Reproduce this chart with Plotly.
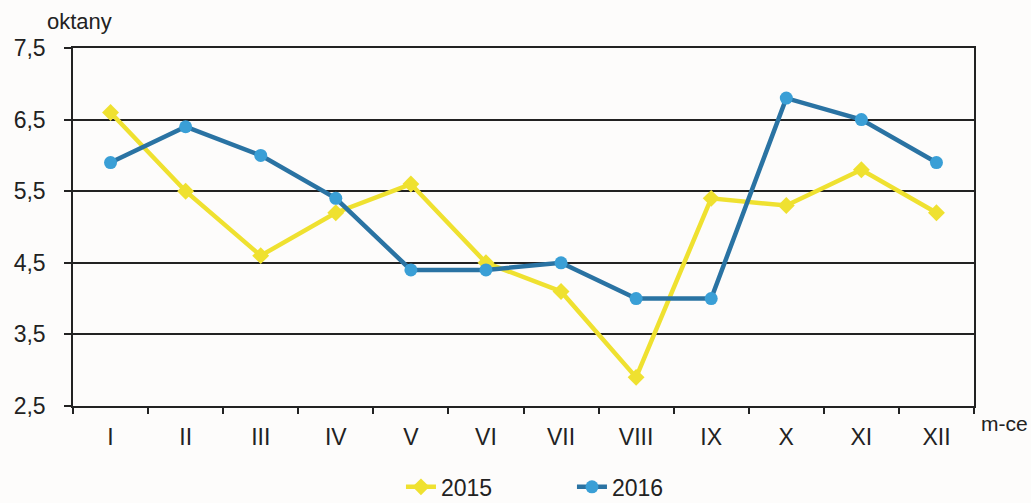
import plotly.graph_objects as go

months = ["I", "II", "III", "IV", "V", "VI", "VII", "VIII", "IX", "X", "XI", "XII"]
y2015 = [6.6, 5.5, 4.6, 5.2, 5.6, 4.5, 4.1, 2.9, 5.4, 5.3, 5.8, 5.2]
y2016 = [5.9, 6.4, 6.0, 5.4, 4.4, 4.4, 4.5, 4.0, 4.0, 6.8, 6.5, 5.9]
ytickvals = [2.5, 3.5, 4.5, 5.5, 6.5, 7.5]
yticktext = ["2,5", "3,5", "4,5", "5,5", "6,5", "7,5"]

FONT = "Liberation Sans, Arial, sans-serif"
BG = "#fdfcfb"
INK = "#222222"

fig = go.Figure()
fig.add_trace(go.Scatter(
    x=months, y=y2015, name="2015", mode="lines+markers",
    line=dict(color="#efe130", width=4.5),
    marker=dict(symbol="diamond", size=13, color="#efe130"),
))
fig.add_trace(go.Scatter(
    x=months, y=y2016, name="2016", mode="lines+markers",
    line=dict(color="#2a73a3", width=4.5),
    marker=dict(symbol="circle", size=13, color="#3a9fd6"),
))

fig.update_layout(
    width=1031, height=503,
    margin=dict(l=73, r=57, t=48, b=97, autoexpand=False),
    paper_bgcolor=BG, plot_bgcolor=BG,
    font=dict(family=FONT, size=22, color=INK),
    showlegend=True,
    legend=dict(orientation="h", xref="paper", x=0.364, xanchor="left",
                yref="container", y=0.032, yanchor="middle",
                font=dict(size=23), entrywidth=126, entrywidthmode="pixels",
                bgcolor="rgba(0,0,0,0)"),
    xaxis=dict(
        type="category", tickson="boundaries", ticks="outside", ticklen=6,
        tickcolor=INK, tickwidth=1.5, automargin=False, ticklabelstandoff=10,
        showline=True, linecolor=INK, linewidth=1.5, mirror=True,
        showgrid=False, range=[-0.5, 11.5],
        tickfont=dict(size=23),
    ),
    yaxis=dict(
        range=[2.5, 7.5], tickvals=ytickvals, ticktext=yticktext,
        ticks="outside", ticklen=7, tickcolor=INK, tickwidth=1.5,
        automargin=False, ticklabelstandoff=14,
        showline=True, linecolor=INK, linewidth=1.5, mirror=True,
        showgrid=True, gridcolor=INK, gridwidth=1.5, zeroline=False,
        tickfont=dict(size=23),
    ),
    annotations=[
        dict(text="oktany", xref="paper", yref="paper", x=-0.031, y=1.075,
             xanchor="left", yanchor="middle", showarrow=False, font=dict(size=22)),
        dict(text="m-ce", xref="paper", yref="paper", x=1.006, y=-0.05,
             xanchor="left", yanchor="middle", showarrow=False, font=dict(size=21)),
    ],
)

fig.write_html("out.html", config={"displayModeBar": False},
               post_script="document.body.style.margin='0';document.body.style.overflow='hidden';")
